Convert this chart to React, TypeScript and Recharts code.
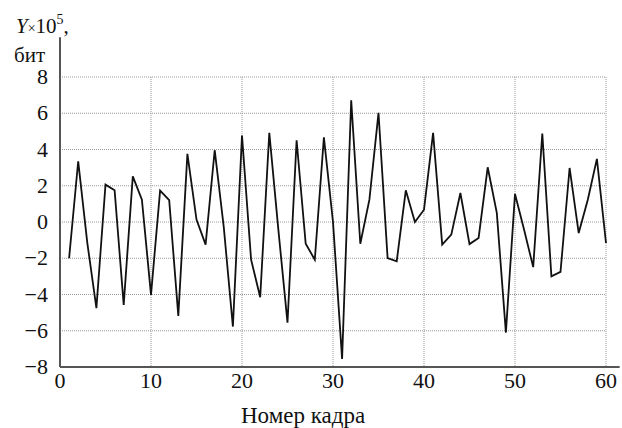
import { LineChart, Line, XAxis, YAxis, CartesianGrid, ReferenceLine } from 'recharts';

// frame numbers 1..60 and the measured values (x10^5 bit)
const frames = [
  1, 2, 3, 4, 5, 6, 7, 8, 9, 10, 11, 12, 13, 14, 15, 16, 17, 18, 19, 20,
  21, 22, 23, 24, 25, 26, 27, 28, 29, 30, 31, 32, 33, 34, 35, 36, 37, 38, 39, 40,
  41, 42, 43, 44, 45, 46, 47, 48, 49, 50, 51, 52, 53, 54, 55, 56, 57, 58, 59, 60,
];
const values = [
  -2.0, 3.35, -1.15, -4.75, 2.06, 1.75, -4.57, 2.52, 1.23, -4.02,
  1.73, 1.2, -5.18, 3.76, 0.13, -1.25, 3.96, -0.3, -5.77, 4.77,
  -2.08, -4.15, 4.92, -0.45, -5.55, 4.51, -1.2, -2.08, 4.67, 0.0,
  -7.55, 6.72, -1.2, 1.23, 6.02, -1.99, -2.17, 1.75, 0.0, 0.68,
  4.92, -1.25, -0.7, 1.6, -1.22, -0.88, 3.02, 0.5, -6.1, 1.55,
  -0.43, -2.49, 4.88, -3.0, -2.75, 2.98, -0.61, 1.23, 3.48, -1.16,
];
const xTicks = [0, 10, 20, 30, 40, 50, 60];
const yTicks = [-8, -6, -4, -2, 0, 2, 4, 6, 8];

const data = frames.map((f, i) => ({ x: f, y: values[i] }));

const font = "'Liberation Serif', 'Times New Roman', Times, serif";

const fmt = (v: number) => (v < 0 ? '\u2212' + Math.abs(v) : String(v));

function XTick({ x, y, payload }: any) {
  return (
    <text x={x} y={y + 21} textAnchor="middle" style={{ fontFamily: font, fontSize: 22 }} fill="#111">
      {fmt(payload.value)}
    </text>
  );
}

function YTick({ x, y, payload }: any) {
  return (
    <text x={x} y={y + 7} textAnchor="end" style={{ fontFamily: font, fontSize: 22 }} fill="#111">
      {fmt(payload.value)}
    </text>
  );
}

export default function App() {
  return (
    <div style={{ position: 'absolute', left: 0, top: 0, width: 622, height: 428, background: '#fff', fontFamily: font }}>
      <LineChart width={622} height={428} data={data} margin={{ top: 77, right: 16, bottom: 0, left: 0 }}>
        <CartesianGrid stroke="#999" strokeDasharray="1 1" strokeWidth={1} />
        <XAxis
          dataKey="x"
          type="number"
          domain={[0, 60]}
          ticks={xTicks}
          axisLine={false}
          tickLine={false}
          tickSize={0}
          tickMargin={0}
          height={61}
          tick={<XTick />}
        />
        <YAxis
          type="number"
          domain={[-8, 8]}
          ticks={yTicks}
          axisLine={false}
          tickLine={false}
          tickSize={0}
          tickMargin={12}
          width={60}
          tick={<YTick />}
        />
        <ReferenceLine
          segment={[{ x: 0, y: -8 }, { x: 61.5, y: -8 }]}
          stroke="#555"
          strokeWidth={2}
          ifOverflow="visible"
        />
        <ReferenceLine
          segment={[{ x: 0, y: -8 }, { x: 0, y: 10.2 }]}
          stroke="#555"
          strokeWidth={2}
          ifOverflow="visible"
        />
        <Line
          type="linear"
          dataKey="y"
          stroke="#111"
          strokeWidth={1.8}
          dot={false}
          isAnimationActive={false}
        />
      </LineChart>
      <svg width={622} height={428} style={{ position: 'absolute', left: 0, top: 0, pointerEvents: 'none', fontFamily: font }}>
        <text x={16} y={33} fontSize={21} fill="#111">
          <tspan fontStyle="italic">Y</tspan>
          <tspan fontSize={14}>×</tspan>
          <tspan>10</tspan>
          <tspan fontSize={14} dy={-9}>5</tspan>
          <tspan dy={9}>,</tspan>
        </text>
        <text x={14} y={62} fontSize={21} fill="#111">бит</text>
        <text x={241} y={423} fontSize={23} fill="#111">Номер кадра</text>
      </svg>
    </div>
  );
}
